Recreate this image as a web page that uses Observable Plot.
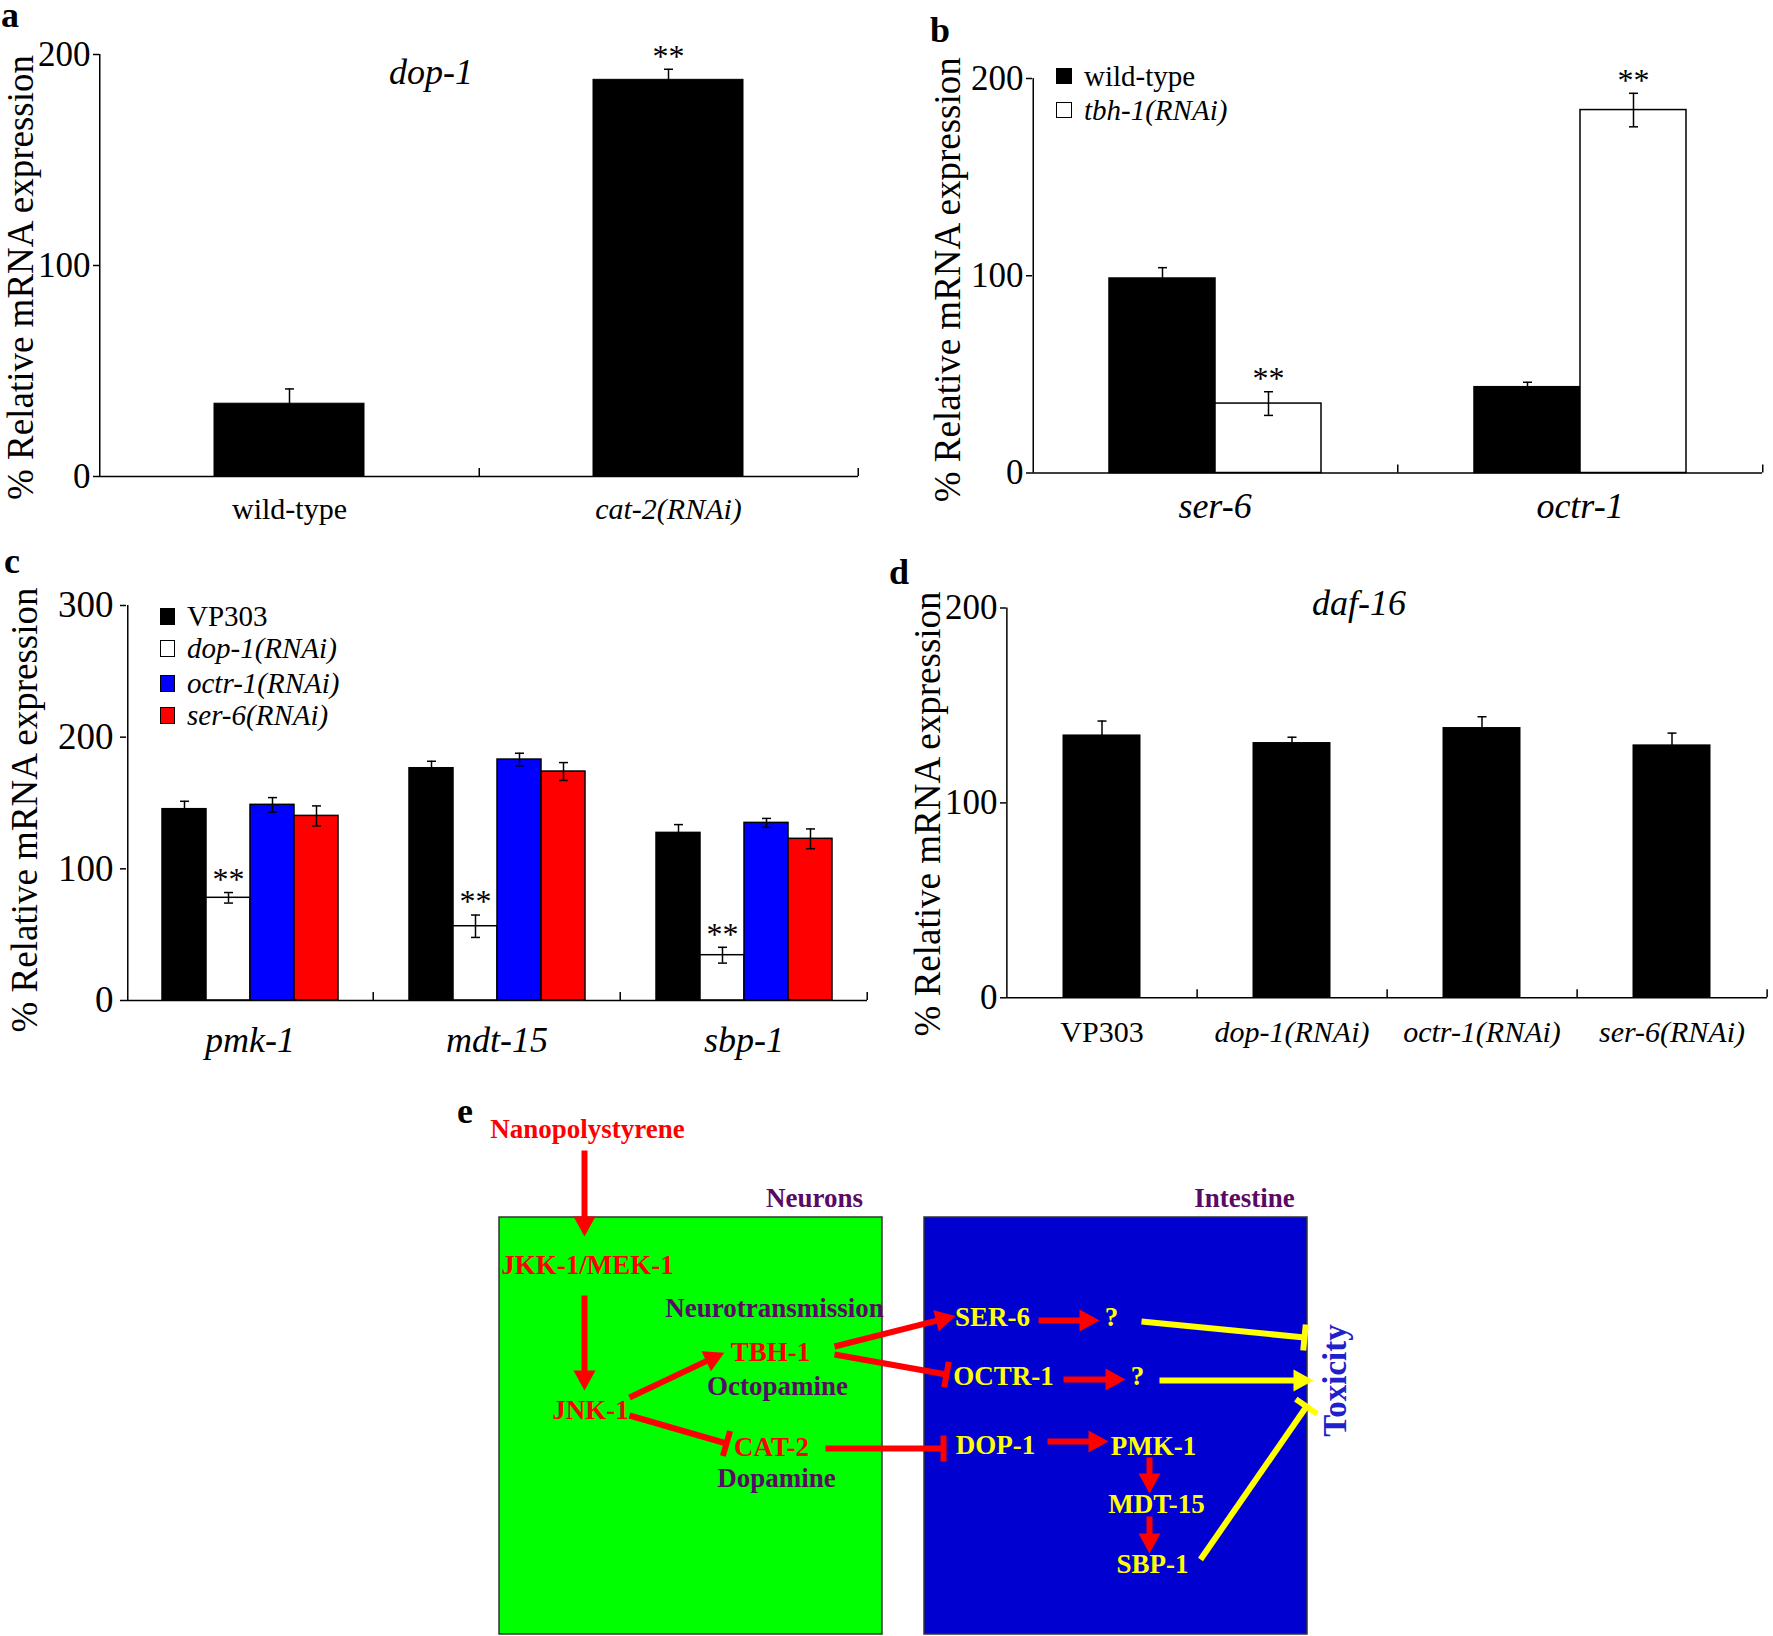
<!DOCTYPE html>
<html>
<head>
<meta charset="utf-8">
<script src="https://cdn.jsdelivr.net/npm/d3@7"></script>
<script src="https://cdn.jsdelivr.net/npm/@observablehq/plot@0.6"></script>
<style>
  body { margin: 0; background: #fff; }
  #fig { position: relative; width: 1773px; height: 1636px; background: #fff; overflow: hidden;
         font-family: 'Liberation Serif', 'Times New Roman', Times, serif; color: #000; }
  .letter { position: absolute; font-weight: bold; font-size: 36px; line-height: 20px; height: 20px; }
  .leg { position: absolute; height: 30px; display: flex; align-items: center; white-space: nowrap; font-size: 29px; line-height: 30px; }
  .sw { display: inline-block; box-sizing: border-box; border: 1px solid #000; margin-right: 12px; }
</style>
</head>
<body>
<div id="fig"></div>
<script>
// ---------------- DATA ----------------
const yLabel = "% Relative mRNA expression";
const plainLabels = ["wild-type", "VP303"];

// Panel a: dop-1
const aTitle = "dop-1";
const aCategories = ["wild-type", "cat-2(RNAi)"];
const aValues = [34.5, 188];
const aErrors = [7, 5];
const aSig = ["", "**"];

// Panel b
const bGenes = ["ser-6", "octr-1"];
const bSeries = ["wild-type", "tbh-1(RNAi)"];
const bWildType = [98.6, 43.5];
const bWildTypeErr = [5.5, 2.5];
const bTbh1 = [35.2, 184];
const bTbh1Err = [6, 8.5];
const bTbh1Sig = ["**", "**"];

// Panel c
const cGenes = ["pmk-1", "mdt-15", "sbp-1"];
const cSeries = ["VP303", "dop-1(RNAi)", "octr-1(RNAi)", "ser-6(RNAi)"];
const cVP303 = [145.3, 176.4, 127.3];
const cVP303Err = [6, 5.3, 6.3];
const cDop1 = [78, 56.4, 34.4];
const cDop1Err = [4, 8.5, 6];
const cOctr1 = [148.6, 183, 134.9];
const cOctr1Err = [5.5, 4.8, 3.4];
const cSer6 = [140.2, 173.9, 122.8];
const cSer6Err = [7.6, 6.8, 7.5];
const cDop1Sig = ["**", "**", "**"];

// Panel d: daf-16
const dTitle = "daf-16";
const dCategories = ["VP303", "dop-1(RNAi)", "octr-1(RNAi)", "ser-6(RNAi)"];
const dValues = [134.6, 130.7, 138.4, 129.5];
const dErrors = [7.4, 3, 5.8, 6.3];

// Panel e: pathway diagram
const eCompartments = [
  {name: "Neurons", x1: 59, x2: 442, y1: 127, y2: 544},
  {name: "Intestine", x1: 484, x2: 867, y1: 127, y2: 544}
];
const eNodes = [
  {label: "Nanopolystyrene", x: 147, y: 39, kind: "signal"},
  {label: "Neurons", x: 374, y: 108, kind: "tissue"},
  {label: "Intestine", x: 804, y: 108, kind: "tissue"},
  {label: "JKK-1/MEK-1", x: 147, y: 175, kind: "signal"},
  {label: "Neurotransmission", x: 334, y: 218, kind: "tissue"},
  {label: "TBH-1", x: 330, y: 262, kind: "signal"},
  {label: "Octopamine", x: 337, y: 296, kind: "tissue"},
  {label: "JNK-1", x: 150, y: 320, kind: "signal"},
  {label: "CAT-2", x: 331, y: 357, kind: "signal"},
  {label: "Dopamine", x: 336, y: 388, kind: "tissue"},
  {label: "SER-6", x: 552, y: 227, kind: "gut"},
  {label: "?", x: 671, y: 227, kind: "gut"},
  {label: "OCTR-1", x: 563, y: 286, kind: "gut"},
  {label: "?", x: 697, y: 286, kind: "gut"},
  {label: "DOP-1", x: 555, y: 355, kind: "gut"},
  {label: "PMK-1", x: 713, y: 356, kind: "gut"},
  {label: "MDT-15", x: 716, y: 414, kind: "gut"},
  {label: "SBP-1", x: 712, y: 474, kind: "gut"}
];
const eOutcome = [{label: "Toxicity", x: 895, y: 290}];
const eEdges = [
  {x1: 144, y1: 60, x2: 144, y2: 144, type: "activate", tone: "red"},
  {x1: 144, y1: 205, x2: 144, y2: 298, type: "activate", tone: "red"},
  {x1: 189, y1: 307, x2: 282, y2: 263, type: "activate", tone: "red"},
  {x1: 189, y1: 325, x2: 286, y2: 353, type: "inhibit", tone: "red"},
  {x1: 394, y1: 256, x2: 513, y2: 226, type: "activate", tone: "red"},
  {x1: 394, y1: 264, x2: 506, y2: 284, type: "inhibit", tone: "red"},
  {x1: 385, y1: 358, x2: 503, y2: 358, type: "inhibit", tone: "red"},
  {x1: 598, y1: 230, x2: 657, y2: 230, type: "activate", tone: "red"},
  {x1: 623, y1: 289, x2: 683, y2: 289, type: "activate", tone: "red"},
  {x1: 607, y1: 351, x2: 666, y2: 351, type: "activate", tone: "red"},
  {x1: 709, y1: 367, x2: 709, y2: 401, type: "activate", tone: "red"},
  {x1: 709, y1: 426, x2: 709, y2: 461, type: "activate", tone: "red"},
  {x1: 701, y1: 231, x2: 864, y2: 247, type: "inhibit", tone: "yellow"},
  {x1: 719, y1: 290, x2: 871, y2: 290, type: "activate", tone: "yellow"},
  {x1: 760, y1: 469, x2: 866, y2: 316, type: "inhibit", tone: "yellow"}
];

// ---------------- STYLE ----------------
const FONT = "'Liberation Serif', 'Times New Roman', Times, serif";
const fig = document.getElementById("fig");
function place(node, left, top) {
  node.style.position = "absolute";
  node.style.left = left + "px";
  node.style.top = top + "px";
  fig.appendChild(node);
  return node;
}
const capSymbol = {draw(ctx) { ctx.moveTo(-4.5, 0); ctx.lineTo(4.5, 0); }};
const headSymbol = {draw(ctx) { ctx.moveTo(2, 0); ctx.lineTo(-18, -11); ctx.lineTo(-18, 11); ctx.closePath(); }};
const barSymbol = {draw(ctx) { ctx.rect(-3, -13, 6, 26); }};
const baseStyle = {fontFamily: FONT, background: "transparent", overflow: "visible", color: "black"};

function yAxisMarks(o, extra) {
  return [
    Plot.axisY({ticks: o.yTicks, tickSize: 6, tickPadding: o.tickPadding ?? 3, fontSize: o.tickFont ?? 35,
                strokeWidth: 1.5, label: null}),
    Plot.text([yLabel], {...extra, frameAnchor: "left", textAnchor: "middle", rotate: -90, lineAnchor: "top",
                dx: -o.labelOffset, dy: o.labelDy, fontSize: 37})
  ];
}

function singlePanel(o) {
  const rows = o.categories.map((cat, i) => ({cat, v: o.values[i], e: o.errors[i], sig: o.sig ? o.sig[i] : ""}));
  const innerW = o.width - o.mL - o.mR;
  const innerH = o.height - o.mT - o.mB;
  const step = innerW / (rows.length - o.pi + 2 * o.po);
  const bw = step * (1 - o.pi);
  const tick = 8 * o.yMax / innerH;
  return Plot.plot({
    width: o.width, height: o.height,
    marginLeft: o.mL, marginRight: o.mR, marginTop: o.mT, marginBottom: o.mB,
    style: baseStyle,
    x: {domain: o.categories, paddingInner: o.pi, paddingOuter: o.po, axis: null},
    y: {domain: [0, o.yMax], axis: null},
    marks: [
      Plot.barY(rows, {x: "cat", y: "v", fill: "black", stroke: "black", strokeWidth: 1}),
      Plot.ruleX(rows, {x: "cat", y1: d => d.v - d.e, y2: d => d.v + d.e, stroke: "black", strokeWidth: 1.5}),
      Plot.dot(rows, {x: "cat", y: d => d.v + d.e, symbol: capSymbol, fill: "none", stroke: "black", strokeWidth: 1.5}),
      Plot.text(rows.filter(d => d.sig), {x: "cat", y: d => d.v + d.e, text: "sig", dy: -13, fontSize: 32}),
      Plot.ruleY([0], {stroke: "black", strokeWidth: 1.5}),
      Plot.ruleX(rows, {x: "cat", dx: step / 2, y1: 0, y2: tick, stroke: "black", strokeWidth: 1.5}),
      Plot.ruleX(rows.slice(0, 1), {x: "cat", dx: -(o.po * step + bw / 2), y1: 0, y2: o.yMax, stroke: "black", strokeWidth: 1.5}),
      ...yAxisMarks(o, {}),
      Plot.text(rows.filter(d => plainLabels.includes(d.cat)), {x: "cat", text: "cat", frameAnchor: "bottom", dy: o.xDy, fontSize: o.xFont}),
      Plot.text(rows.filter(d => !plainLabels.includes(d.cat)), {x: "cat", text: "cat", frameAnchor: "bottom", dy: o.xDy, fontSize: o.xFont, fontStyle: "italic"}),
      Plot.text([o.title], {frameAnchor: "top", dx: o.titleDx, dy: o.titleDy, fontSize: 36, fontStyle: "italic"})
    ]
  });
}

function groupedPanel(o) {
  const rows = [];
  o.genes.forEach((gene, gi) => o.series.forEach((s, si) => rows.push({
    gene, series: s, v: o.values[si][gi], e: o.errors[si][gi], sig: o.sig[si] ? o.sig[si][gi] : ""
  })));
  const innerW = o.width - o.mL - o.mR;
  const innerH = o.height - o.mT - o.mB;
  const facetW = innerW / o.genes.length;
  const bw = facetW / (o.series.length + 2 * o.po);
  const tick = 8 * o.yMax / innerH;
  const first = o.series[0];
  const last = o.series[o.series.length - 1];
  return Plot.plot({
    width: o.width, height: o.height,
    marginLeft: o.mL, marginRight: o.mR, marginTop: o.mT, marginBottom: o.mB,
    style: baseStyle,
    fx: {domain: o.genes, padding: 0, axis: null},
    x: {domain: o.series, paddingInner: 0, paddingOuter: o.po, axis: null},
    y: {domain: [0, o.yMax], axis: null},
    color: {domain: o.series, range: o.colors},
    marks: [
      Plot.barY(rows, {fx: "gene", x: "series", y: "v", fill: "series", stroke: "black", strokeWidth: 1.5}),
      Plot.ruleX(rows, {fx: "gene", x: "series", y1: d => d.v - d.e, y2: d => d.v + d.e, stroke: "black", strokeWidth: 1.5}),
      Plot.dot(rows, {fx: "gene", x: "series", y: d => d.v + d.e, symbol: capSymbol, fill: "none", stroke: "black", strokeWidth: 1.5}),
      Plot.dot(rows, {fx: "gene", x: "series", y: d => d.v - d.e, symbol: capSymbol, fill: "none", stroke: "black", strokeWidth: 1.5}),
      Plot.text(rows.filter(d => d.sig), {fx: "gene", x: "series", y: d => d.v + d.e, text: "sig", dy: -13, fontSize: 32}),
      Plot.ruleY([0], {stroke: "black", strokeWidth: 1.5}),
      Plot.ruleX(o.genes, {fx: d => d, x: () => last, dx: bw / 2 + o.po * bw, y1: 0, y2: tick, stroke: "black", strokeWidth: 1.5}),
      Plot.ruleX(o.genes.slice(0, 1), {fx: d => d, x: () => first, dx: -(bw / 2 + o.po * bw), y1: 0, y2: o.yMax, stroke: "black", strokeWidth: 1.5}),
      ...yAxisMarks(o, {fx: () => o.genes[0]}),
      Plot.text(o.genes, {fx: d => d, text: d => d, frameAnchor: "bottom", dy: o.xDy, fontSize: 36, fontStyle: "italic"})
    ]
  });
}

function legend(items, left, tops) {
  items.forEach((it, i) => {
    const row = document.createElement("div");
    row.className = "leg";
    const sw = document.createElement("span");
    sw.className = "sw";
    sw.style.width = it.w + "px";
    sw.style.height = it.h + "px";
    sw.style.background = it.color;
    const tx = document.createElement("span");
    tx.textContent = it.label;
    if (it.italic) tx.style.fontStyle = "italic";
    row.appendChild(sw);
    row.appendChild(tx);
    place(row, left, tops[i] - 15);
  });
}

function letter(ch, left, top) {
  const el = document.createElement("div");
  el.className = "letter";
  el.textContent = ch;
  place(el, left, top);
}

// ---------------- PANELS ----------------
place(singlePanel({
  categories: aCategories, values: aValues, errors: aErrors, sig: aSig, title: aTitle,
  width: 880, height: 540, mL: 99, mR: 22, mT: 54, mB: 64, yMax: 200, yTicks: [0, 100, 200],
  pi: 0.605, po: 0.3025, labelOffset: 93, labelDy: 12, xDy: 42, xFont: 30, titleDx: -48, titleDy: 4
}), 0, 0);

place(groupedPanel({
  genes: bGenes, series: bSeries,
  values: [bWildType, bTbh1], errors: [bWildTypeErr, bTbh1Err], sig: [null, bTbh1Sig],
  colors: ["#000000", "#ffffff"],
  width: 873, height: 540, mL: 132, mR: 11, mT: 78, mB: 67.5, yMax: 200, yTicks: [0, 100, 200],
  po: 0.714, labelOffset: 99, labelDy: 4, xDy: 45
}), 900, 0);

place(groupedPanel({
  genes: cGenes, series: cSeries,
  values: [cVP303, cDop1, cOctr1, cSer6], errors: [cVP303Err, cDop1Err, cOctr1Err, cSer6Err],
  sig: [null, cDop1Sig, null, null],
  colors: ["#000000", "#ffffff", "#0000ff", "#ff0000"],
  width: 890, height: 520, mL: 125, mR: 22, mT: 65, mB: 60, yMax: 300, yTicks: [0, 100, 200, 300],
  po: 0.768, labelOffset: 116, labelDy: 7, xDy: 51, tickPadding: 7, tickFont: 37
}), 0, 540);

place(singlePanel({
  categories: dCategories, values: dValues, errors: dErrors, sig: null, title: dTitle,
  width: 873, height: 520, mL: 106, mR: 6, mT: 67.5, mB: 62.7, yMax: 200, yTicks: [0, 100, 200],
  pi: 0.595, po: 0.2975, labelOffset: 93, labelDy: 11, xDy: 44, xFont: 30, titleDx: -28, titleDy: -19
}), 900, 540);

// Legends
legend([
  {label: bSeries[0], color: "#000", w: 16, h: 16, italic: false},
  {label: bSeries[1], color: "#fff", w: 16, h: 16, italic: true}
], 1056, [76, 110]);
legend(cSeries.map((s, i) => ({label: s, color: ["#000", "#fff", "#0000ff", "#ff0000"][i], w: 15, h: 17, italic: i > 0})),
  160, [616, 648, 683, 715]);

// Diagram (panel e)
const toneColor = {red: "#ff0000", yellow: "#ffff00"};
const kindColor = {signal: "#ff0000", tissue: "#5a0a64", gut: "#ffff00"};
const ang = d => Math.atan2(d.y2 - d.y1, d.x2 - d.x1) * 180 / Math.PI;
const shaftEnd = (d, k) => {
  if (d.type !== "activate") return k === "x" ? d.x2 : d.y2;
  const L = Math.hypot(d.x2 - d.x1, d.y2 - d.y1);
  const t = (L - 12) / L;
  return k === "x" ? d.x1 + (d.x2 - d.x1) * t : d.y1 + (d.y2 - d.y1) * t;
};
const EW = 933, EH = 546;
place(Plot.plot({
  width: EW, height: EH, margin: 0,
  style: {...baseStyle},
  x: {domain: [0, EW], range: [0, EW], axis: null},
  y: {domain: [0, EH], range: [0, EH], axis: null},
  color: {type: "identity"},
  marks: [
    Plot.rect(eCompartments, {x1: "x1", x2: "x2", y1: "y1", y2: "y2",
      fill: d => d.name === "Neurons" ? "#00ff00" : "#0000d0", stroke: "#333", strokeWidth: 1.5}),
    Plot.link(eEdges, {x1: "x1", y1: "y1", x2: d => shaftEnd(d, "x"), y2: d => shaftEnd(d, "y"),
      stroke: d => toneColor[d.tone], strokeWidth: 6}),
    Plot.dot(eEdges.filter(d => d.type === "activate"), {x: "x2", y: "y2", symbol: headSymbol, rotate: ang,
      fill: d => toneColor[d.tone], stroke: "none"}),
    Plot.dot(eEdges.filter(d => d.type === "inhibit"), {x: "x2", y: "y2", symbol: barSymbol, rotate: ang,
      fill: d => toneColor[d.tone], stroke: "none"}),
    Plot.text(eNodes, {x: "x", y: "y", text: "label", fill: d => kindColor[d.kind], fontSize: 27, fontWeight: "bold"}),
    Plot.text(eOutcome, {x: "x", y: "y", text: "label", fill: "#2020cc", fontSize: 33, fontWeight: "bold", rotate: -90})
  ]
}), 440, 1090);

letter("a", 1, 5);
letter("b", 930, 20);
letter("c", 4, 551);
letter("d", 889, 562);
letter("e", 457, 1101);
</script>
</body>
</html>
